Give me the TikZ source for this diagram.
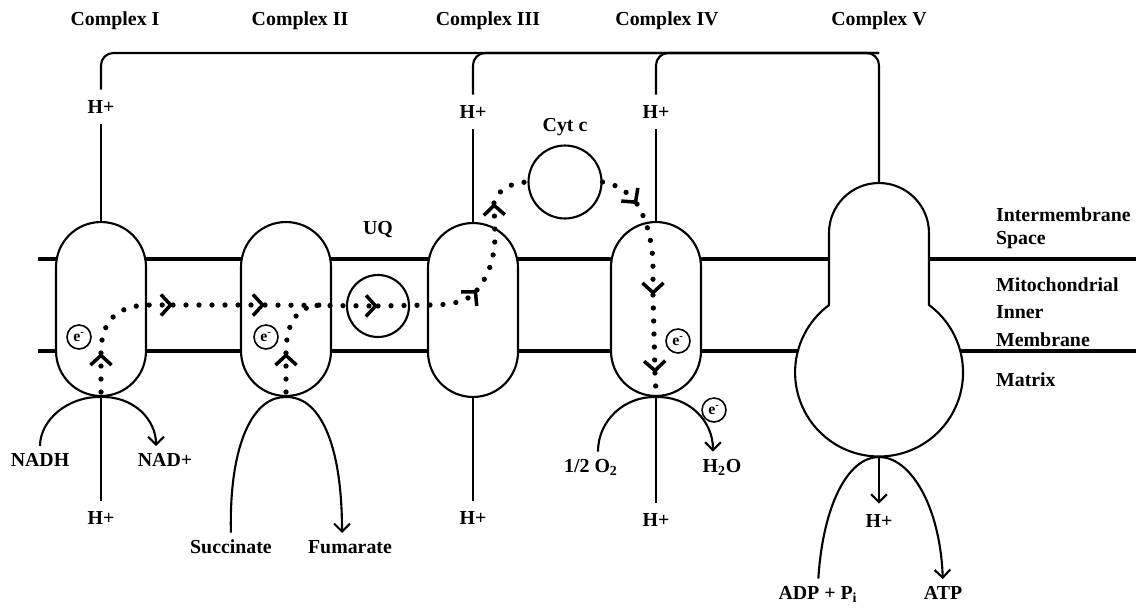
\documentclass[tikz,border=0pt]{standalone}
\usepackage{fontspec}
\setmainfont{Liberation Serif}
\usetikzlibrary{arrows.meta}

\tikzset{
  lbl/.style={font=\bfseries\fontsize{11.3}{13}\selectfont, inner sep=1pt},
  hplus/.style={lbl, inner sep=6pt},
  membrane/.style={line width=2pt},
  complexbox/.style={draw, fill=white, line width=1.2pt, rounded corners=0.9cm,
    minimum width=1.8cm, minimum height=3.48cm},
  hline/.style={line width=1.2pt},
  arch/.style={line width=1.2pt, shorten <=3pt, shorten >=3pt,
    -{Straight Barb[length=4.5pt,width=9pt]}},
  chev/.tip={Straight Barb[length=5.5pt,width=12pt,line width=2pt]},
  edots/.style={line width=3pt, line cap=round, dash pattern=on 0pt off 7.4pt},
  ecircle/.style={draw, circle, line width=0.9pt, inner sep=0pt, minimum size=0.48cm,
    font=\bfseries\fontsize{9}{9}\selectfont},
  carrier/.style={draw, circle, line width=1.2pt, inner sep=0pt},
}

\begin{document}
\begin{tikzpicture}[x=0.02cm, y=-0.02cm]
  \useasboundingbox (0,0) rectangle (1136,608);

  \node[lbl] (t1) at (115,21) {Complex I};
  \node[lbl] (t2) at (300,21) {Complex II};
  \node[lbl] (t3) at (488,21) {Complex III};
  \node[lbl] (t4) at (667,21) {Complex IV};
  \node[lbl] (t5) at (879,21) {Complex V};

  \coordinate (mtopL) at (38,259);
  \coordinate (mtopR) at (1136,259);
  \coordinate (mbotL) at (38,351);
  \coordinate (mbotR) at (1136,351);
  \draw[membrane] (mtopL) -- (mtopR);
  \draw[membrane] (mbotL) -- (mbotR);

  \node[complexbox] (c1) at (101,309) {};
  \node[complexbox] (c2) at (286,309) {};
  \node[complexbox] (c3) at (473,310) {};
  \node[complexbox] (c4) at (656,309) {};

  \coordinate (c5top) at (879,183);
  \coordinate (c5bot) at (879,457);
  \draw[line width=1.2pt, fill=white, line join=round] (829,305) -- (829,233)
    arc[start angle=180, end angle=0, radius=1cm] -- (929,305)
    arc[start angle=53.5, end angle=-233.5, radius=1.68cm] -- cycle;

  \node[hplus] (h1) at (101,107) {H+};
  \node[hplus] (h3) at (473,112) {H+};
  \node[hplus] (h4) at (656,112) {H+};
  \coordinate (bk) at (879,53);
  \draw[hline] (h1.south) -- (c1.north);
  \draw[hline] (h3.south) -- (c3.north);
  \draw[hline] (h4.south) -- (c4.north);
  \draw[hline, rounded corners=7pt] (h1.north) |- (bk) -- (c5top);
  \draw[hline, rounded corners=7pt] (h3.north) |- (bk);
  \draw[hline, rounded corners=7pt] (h4.north) |- (bk);

  \node[hplus] (h1b) at (101,518) {H+};
  \node[hplus] (h3b) at (473,518) {H+};
  \node[hplus] (h4b) at (656,520) {H+};
  \node[hplus] (h5b) at (879,521) {H+};
  \draw[hline] (c1.south) -- (h1b.north);
  \draw[hline] (c3.south) -- (h3b.north);
  \draw[hline] (c4.south) -- (h4b.north);
  \draw[hline, -{Straight Barb[length=4.5pt,width=9pt]}] (c5bot) -- (h5b.north);

  \node[lbl] (nadh) at (40,460) {NADH};
  \node[lbl] (nad) at (165,460) {NAD+};
  \node[lbl] (succ) at (231,547) {Succinate};
  \node[lbl] (fum) at (350,547) {Fumarate};
  \node[lbl] (o2) at (591,467) {1/2 O\textsubscript{2}};
  \node[lbl] (h2o) at (722,467) {H\textsubscript{2}O};
  \node[lbl] (adp) at (818,594) {ADP + P\textsubscript{i}};
  \node[lbl] (atp) at (943,593) {ATP};

  \draw[arch] (nadh.north) .. controls (40,420) and (68,396) .. (c1.south)
    .. controls (134,396) and (156,420) .. ([xshift=-0.18cm]nad.north);
  \draw[arch] (succ.north) .. controls (229,440) and (255,396) .. (c2.south)
    .. controls (318,396) and (342,440) .. ([xshift=-0.16cm]fum.north);
  \draw[arch] ([xshift=0.14cm]o2.north) .. controls (598,420) and (625,396) .. (c4.south)
    .. controls (688,396) and (713,420) .. ([xshift=-0.18cm]h2o.north);
  \draw[arch] (adp.north) .. controls (823,505) and (848,457) .. (c5bot)
    .. controls (910,457) and (940,505) .. (atp.north);

  \node[carrier, minimum size=1.24cm] (uq) at (378,306) {};
  \node[lbl] (uqlbl) at (378,230) {UQ};
  \node[carrier, minimum size=1.46cm] (cytc) at (565,182) {};
  \node[lbl] (cytclbl) at (565,127) {Cyt c};

  \node[ecircle] (e1) at (79,337) {e\textsuperscript{-}};
  \node[ecircle] (e2) at (266,337) {e\textsuperscript{-}};
  \node[ecircle] (e4) at (678,341) {e\textsuperscript{-}};
  \node[ecircle] (e4b) at (714,410) {e\textsuperscript{-}};

  \draw[edots,-{chev}] ([yshift=0.1cm]c1.south) -- (101,353);
  \draw[edots,-{chev}] (101,353) .. controls (101,318) and (120,305) .. (150,305) -- (173,305);
  \draw[edots,-{chev}] (173,305) -- (265,305);
  \draw[edots,-{chev}] ([yshift=0.1cm]c2.south) -- (286,353);
  \draw[edots] (286,353) .. controls (286,322) and (298,306) .. (320,305);
  \draw[edots,-{chev}] (265,305) -- (uq.center);
  \draw[edots,-{chev}] (uq.center) -- (430,305) .. controls (455,305) and (468,300) .. (477,290);
  \draw[edots,-{chev}] (477,290) .. controls (490,274) and (495,255) .. (495,235) -- (494,203);
  \draw[edots] (494,203) .. controls (497,190) and (510,183) .. (cytc.west);
  \draw[edots,-{chev}] (cytc.east) .. controls (615,184) and (626,190) .. (637,204);
  \draw[edots,-{chev}] (637,204) .. controls (646,218) and (652,240) .. (653,262) -- (653,295);
  \draw[edots,-{chev}] (653,295) -- (655,373);
  \draw[edots] (655,373) -- ([yshift=0.1cm]c4.south);

  \node[lbl, anchor=west, align=left] (ims) at (994,228) {Intermembrane\\Space};
  \node[lbl, anchor=west, align=left, font=\bfseries\fontsize{11.3}{15.8}\selectfont]
    (mim) at (994,312) {Mitochondrial\\Inner\\Membrane};
  \node[lbl, anchor=west] (mtx) at (994,380) {Matrix};
\end{tikzpicture}
\end{document}
